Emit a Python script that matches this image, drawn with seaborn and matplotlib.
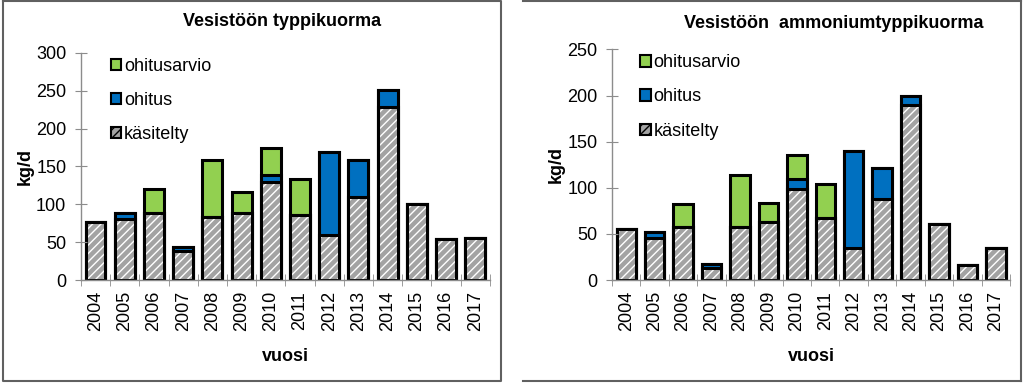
import pandas as pd
import seaborn as sns
import matplotlib.pyplot as plt
from matplotlib.patches import Patch
from matplotlib.lines import Line2D

# vuodet
vuosi = ['2004', '2005', '2006', '2007', '2008', '2009', '2010',
         '2011', '2012', '2013', '2014', '2015', '2016', '2017']

# Vesistöön typpikuorma (kg/d)
typpi_kasitelty = [76, 80, 89, 38, 83, 88, 130, 86, 59, 110, 229, 100, 54, 56]
typpi_ohitus = [0, 8, 0, 6, 0, 0, 9, 0, 110, 49, 22, 0, 0, 0]
typpi_arvio = [0, 0, 31, 0, 75, 28, 35, 48, 0, 0, 0, 0, 0, 0]

# Vesistöön ammoniumtyppikuorma (kg/d)
amm_kasitelty = [55, 46, 57, 13, 57, 63, 99, 67, 35, 88, 190, 61, 16, 35]
amm_ohitus = [0, 6, 1, 4, 0, 0, 11, 0, 105, 33, 10, 0, 0, 0]
amm_arvio = [0, 0, 24, 0, 57, 21, 26, 37, 0, 0, 0, 0, 0, 0]

VIHREA = '#92d050'
SININEN = '#0070c0'
HARMAA = '#a3a3a3'
AKSELI = '#8c8c8c'
FS = 13

plt.rcParams['font.family'] = ['Liberation Sans', 'DejaVu Sans']
plt.rcParams['hatch.linewidth'] = 1.0


def piirra(ax, kasitelty, ohitus, arvio, ymax, leg_x):
    df = pd.DataFrame({'vuosi': vuosi, 'kasitelty': kasitelty,
                       'ohitus': ohitus, 'arvio': arvio})
    df['k_o'] = df['kasitelty'] + df['ohitus']
    df['yht'] = df['k_o'] + df['arvio']

    w = 0.68
    sns.barplot(data=df, x='vuosi', y='yht', color=VIHREA, saturation=1,
                edgecolor='black', linewidth=2.2, width=w, ax=ax)
    sns.barplot(data=df, x='vuosi', y='k_o', color=SININEN, saturation=1,
                edgecolor='black', linewidth=2.2, width=w, ax=ax)
    sns.barplot(data=df, x='vuosi', y='kasitelty', color=HARMAA, saturation=1,
                edgecolor='white', linewidth=0, hatch='////', width=w, ax=ax)
    sns.barplot(data=df, x='vuosi', y='kasitelty', color='black', fill=False,
                linewidth=2.2, width=w, ax=ax)

    ax.set_xlim(-0.5, len(vuosi) - 0.5)
    ax.set_ylim(0, ymax)
    ax.set_yticks(range(0, ymax + 1, 50))
    ax.tick_params(axis='y', direction='inout', length=9, color=AKSELI,
                   labelsize=FS, pad=6)
    ax.tick_params(axis='x', which='major', length=0, labelsize=FS,
                   labelrotation=90, pad=8)
    ax.set_xticks([i + 0.5 for i in range(-1, len(vuosi))], minor=True)
    ax.tick_params(axis='x', which='minor', direction='inout', length=8,
                   color=AKSELI)
    for s in ['top', 'right']:
        ax.spines[s].set_visible(False)
    for s in ['left', 'bottom']:
        ax.spines[s].set_color(AKSELI)
        ax.spines[s].set_linewidth(1.0)
    ax.set_xlabel('vuosi', fontsize=FS, fontweight='bold', labelpad=12)
    ax.set_ylabel('kg/d', fontsize=FS, fontweight='bold', labelpad=2)

    kahvat = [Patch(facecolor=VIHREA, edgecolor='black', linewidth=1.5),
              Patch(facecolor=SININEN, edgecolor='black', linewidth=1.5),
              Patch(facecolor=HARMAA, edgecolor='black', linewidth=1.5,
                    hatch='////')]
    ax.legend(kahvat, ['ohitusarvio', 'ohitus', 'käsitelty'],
              loc='upper left', bbox_to_anchor=(leg_x, 1.01), frameon=False,
              fontsize=FS, handlelength=0.6, handleheight=0.6,
              handletextpad=0.15, labelspacing=0.95, borderaxespad=0.0)


fig = plt.figure(figsize=(10.24, 3.85), dpi=100)
ax1 = fig.add_axes([0.079, 0.2727, 0.3994, 0.590])
ax2 = fig.add_axes([0.5977, 0.2727, 0.3887, 0.599])

piirra(ax1, typpi_kasitelty, typpi_ohitus, typpi_arvio, 300, 0.055)
piirra(ax2, amm_kasitelty, amm_ohitus, amm_arvio, 250, 0.052)

W, H = 1024, 385
fig.text(282 / W, 1 - 22 / H, 'Vesistöön typpikuorma', fontsize=FS,
         fontweight='bold', ha='center', va='center')
fig.text(834 / W, 1 - 24 / H, 'Vesistöön  ammoniumtyppikuorma', fontsize=FS,
         fontweight='bold', ha='center', va='center')

# kehykset
kehys = dict(color='#606060', linewidth=1.5, transform=fig.transFigure)
for xs, ys in [([3, 3, 501, 501, 3], [1, 381, 381, 1, 1]),
               ([523, 1021], [1, 1]), ([1021, 1021], [1, 381]),
               ([523, 1021], [381, 381])]:
    fig.add_artist(Line2D([x / W for x in xs], [1 - y / H for y in ys], **kehys))

plt.savefig('out.png', dpi=100)
